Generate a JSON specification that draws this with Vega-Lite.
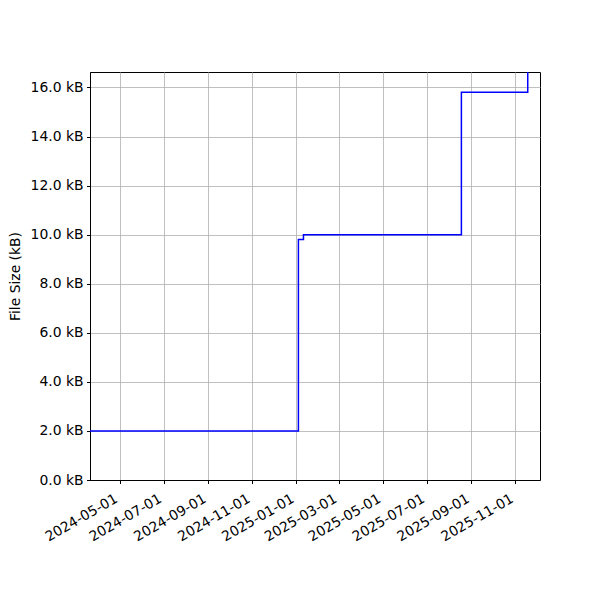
{
  "$schema": "https://vega.github.io/schema/vega-lite/v6.json",
  "width": 450,
  "height": 408,
  "autosize": {"type": "none"},
  "padding": {"left": 90, "top": 72, "right": 60, "bottom": 120},
  "background": "white",
  "config": {
    "view": {"stroke": "black", "strokeWidth": 1},
    "font": "DejaVu Sans",
    "axis": {
      "labelFont": "DejaVu Sans",
      "titleFont": "DejaVu Sans",
      "labelFontSize": 13.9,
      "titleFontSize": 13.9,
      "titleFontWeight": "normal",
      "labelColor": "black",
      "titleColor": "black",
      "gridColor": "#b0b0b0",
      "gridWidth": 0.8,
      "tickColor": "black",
      "tickSize": 3.5,
      "tickWidth": 1,
      "domainColor": "black",
      "labelPadding": 3.5
    }
  },
  "data": {
    "values": [
      {"date": "2024-03-21", "size": 2.0},
      {"date": "2025-01-04", "size": 9.8},
      {"date": "2025-01-11", "size": 10.0},
      {"date": "2025-08-18", "size": 15.8},
      {"date": "2025-11-18", "size": 18.0}
    ]
  },
  "mark": {"type": "line", "interpolate": "step-after", "color": "#0000ff", "strokeWidth": 1.5, "clip": true},
  "encoding": {
    "x": {
      "field": "date",
      "type": "temporal",
      "scale": {"type": "utc", "domain": ["2024-03-21", "2025-12-05"], "nice": false},
      "axis": {
        "title": null,
        "values": [
          {"year": 2024, "month": 5, "date": 1, "utc": true},
          {"year": 2024, "month": 7, "date": 1, "utc": true},
          {"year": 2024, "month": 9, "date": 1, "utc": true},
          {"year": 2024, "month": 11, "date": 1, "utc": true},
          {"year": 2025, "month": 1, "date": 1, "utc": true},
          {"year": 2025, "month": 3, "date": 1, "utc": true},
          {"year": 2025, "month": 5, "date": 1, "utc": true},
          {"year": 2025, "month": 7, "date": 1, "utc": true},
          {"year": 2025, "month": 9, "date": 1, "utc": true},
          {"year": 2025, "month": 11, "date": 1, "utc": true}
        ],
        "labelExpr": "utcFormat(datum.value, '%Y-%m-%d')",
        "labelAngle": -30,
        "labelAlign": "right",
        "labelBaseline": "bottom",
        "labelPadding": 20,
        "labelOverlap": false,
        "grid": true
      }
    },
    "y": {
      "field": "size",
      "type": "quantitative",
      "scale": {"domain": [0, 16.63], "nice": false, "zero": true},
      "axis": {
        "title": "File Size (kB)",
        "values": [0, 2, 4, 6, 8, 10, 12, 14, 16],
        "labelExpr": "format(datum.value, '.1f') + ' kB'",
        "titlePadding": 8,
        "grid": true
      }
    }
  }
}
